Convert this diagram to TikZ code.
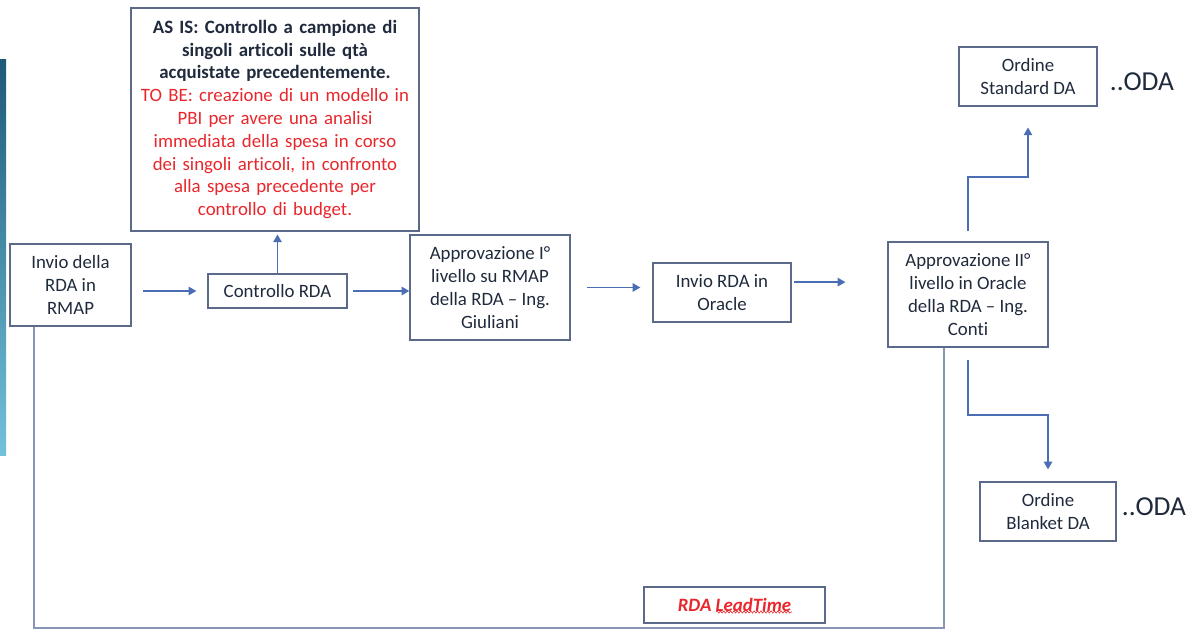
\documentclass[tikz,border=0pt]{standalone}
\usepackage{fontspec}
\setmainfont{Carlito}[Ligatures=NoCommon]
\usetikzlibrary{arrows.meta,decorations.pathmorphing}

\definecolor{boxline}{HTML}{5A6A88}
\definecolor{flowblue}{HTML}{4A6DB3}
\definecolor{textdark}{HTML}{1F2A3C}
\definecolor{tobered}{HTML}{E8262B}
\definecolor{leadgray}{HTML}{8796B4}
\definecolor{stripdark}{HTML}{1E5A78}
\definecolor{striplight}{HTML}{72C2DA}

\tikzset{
  box/.style={draw=boxline, line width=0.95pt, inner sep=0pt, align=center,
    text=textdark, font=\fontsize{13.4}{16.2}\selectfont},
  flow/.style={draw=flowblue, line width=1.05pt,
    -{Triangle[length=5.5pt,width=6pt]}},
  leadline/.style={draw=leadgray, line width=0.75pt},
  odatext/.style={text=textdark, inner sep=0pt, font=\fontsize{19.5}{23}\selectfont}
}

\begin{document}
\begin{tikzpicture}[x=0.025cm, y=-0.025cm]
            \useasboundingbox (0,0) rectangle (1202,629);
            \shade[top color=stripdark, bottom color=striplight] (0,60) rectangle (6,455);
            % boxes
            \node[box, minimum width={288*0.025cm}, minimum height={223*0.025cm},
                  text width={284*0.025cm}] (asis) at (275,119.5)
              {\centering\textbf{AS IS: Controllo a campione di\\singoli articoli sulle qtà\\acquistate precedentemente.}\\
               {\color{tobered}TO BE: creazione di un modello in\\PBI per avere una analisi\\immediata della spesa in corso\\dei singoli articoli, in confronto\\alla spesa precedente per\\controllo di budget.}};
            \node[box, minimum width={121*0.025cm}, minimum height={82*0.025cm}] (invio) at (70.5,285)
              {Invio della\\RDA in\\RMAP};
            \node[box, minimum width={139*0.025cm}, minimum height={34*0.025cm}] (contr) at (277.5,291)
              {Controllo RDA};
            \node[box, minimum width={160*0.025cm}, minimum height={105*0.025cm}] (appr1) at (490,287.5)
              {Approvazione I°\\livello su RMAP\\della RDA – Ing.\\Giuliani};
            \node[box, minimum width={138*0.025cm}, minimum height={59*0.025cm}] (oracle) at (722,292.5)
              {Invio RDA in\\Oracle};
            \node[box, minimum width={160*0.025cm}, minimum height={105*0.025cm}] (appr2) at (968,294.5)
              {Approvazione II°\\livello in Oracle\\della RDA – Ing.\\Conti};
            \node[box, minimum width={138*0.025cm}, minimum height={59*0.025cm}] (std) at (1028,76.5)
              {Ordine\\Standard DA};
            \node[box, minimum width={136*0.025cm}, minimum height={59*0.025cm}] (blk) at (1048,511.5)
              {Ordine\\Blanket DA};
            \node[box, minimum width={181*0.025cm}, minimum height={36*0.025cm}, text=tobered,
                  font=\fontsize{13.4}{16}\selectfont\bfseries\itshape] (lead) at (734.5,605)
              {RDA LeadTime};
            \node[odatext] (oda1) at (1142,82) {..ODA};
            \node[odatext] (oda2) at (1154,507) {..ODA};
            % spell-check wave under LeadTime
            \draw[tobered, line width=0.4pt, decorate,
                  decoration={snake, amplitude=0.8pt, segment length=2.4pt}] (716,612) -- (792,612);
            % arrows
            \draw[flow, shorten <=7.8pt, shorten >=7.8pt] (invio.east |- contr.west) -- (contr.west);
            \draw[flow, shorten <=4pt] (contr.east) -- (contr.east -| appr1.west);
            \draw[flow, shorten >=2pt] (contr.north) -- (contr.north |- asis.south);
            \draw[flow, shorten <=11.3pt, shorten >=8.5pt] (appr1.east) -- (appr1.east -| oracle.west);
            \draw[flow, shorten <=1.4pt, shorten >=29.8pt] ([yshift=7.4pt]oracle.east) -- ([yshift=7.4pt]oracle.east -| appr2.west);
            \coordinate (stdbend) at (1028,177);
            \draw[flow, shorten <=7pt, shorten >=14.8pt] (appr2.north) |- (stdbend) -- (stdbend |- std.south);
            \coordinate (blkbend) at (1048,415);
            \draw[flow, shorten <=8.5pt, shorten >=8.5pt] (appr2.south) |- (blkbend) -- (blkbend |- blk.north);
            % lead time bracket
            \coordinate (ltL) at (34,628);
            \coordinate (ltR) at (944,628);
            \draw[leadline] (invio.south -| ltL) -- (ltL) -- (ltR) -- (ltR |- appr2.south);
          \end{tikzpicture}
\end{document}
